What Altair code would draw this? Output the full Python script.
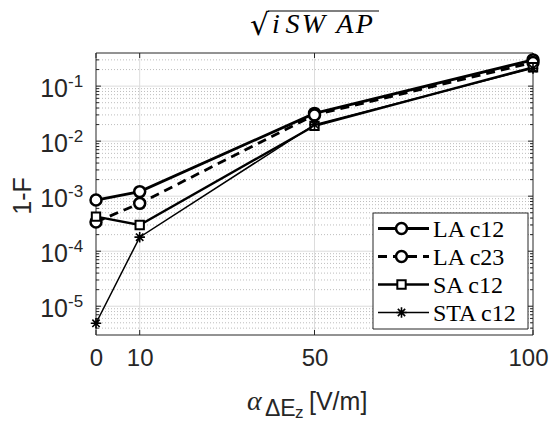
import altair as alt
import pandas as pd

# ---------------- data ----------------
x_vals = [0, 10, 50, 100]
la_c12 = [8.5e-4, 1.21e-3, 0.032, 0.30]
la_c23 = [3.4e-4, 7.4e-4, 0.030, 0.27]
sa_c12 = [4.25e-4, 3.0e-4, 0.019, 0.22]
sta_c12 = [4.9e-6, 1.8e-4, 0.020, 0.21]
series_names = ["LA c12", "LA c23", "SA c12", "STA c12"]

x_ticks = [0, 10, 50, 100]
x_grid = [10, 50]
y_decades = [1e-5, 1e-4, 1e-3, 1e-2, 1e-1]
y_exponents = ["-5", "-4", "-3", "-2", "-1"]
y_minor = [m * 10.0 ** e for e in range(-6, 0) for m in range(2, 10)
           if 3e-6 < m * 10.0 ** e < 0.4]

title_root = ["\u221a"]
title_body = ["i\u2009S\u200aW\u2009\u2009A\u200aP"]
y_title = ["1-F"]
x_title_parts = ["\u03b1", "\u0394E", "z", "[V/m]"]

W, H = 437, 282
YDOM = [3e-6, 0.4]
INK = "#262626"


def X(field="x"):
    return alt.X(f"{field}:Q",
                 scale=alt.Scale(domain=[0, 100], nice=False, zero=False),
                 axis=alt.Axis(values=x_ticks, grid=False, domain=False, ticks=False,
                               labelFontSize=24, labelFont="Liberation Sans",
                               labelColor=INK, labelPadding=11, labelFlush=False,
                               labelOffset={"condition": {"test": "datum.value >= 100", "value": -5},
                                            "value": 0},
                               labelOverlap=False, title=None))


def Y(field="y"):
    return alt.Y(f"{field}:Q", scale=alt.Scale(type="log", domain=YDOM, nice=False),
                 axis=None)


layers = []

# minor dotted grid
df_minor = pd.DataFrame({"v": y_minor})
layers.append(alt.Chart(df_minor).mark_rule(color="#bdbdbd", strokeDash=[1, 2], strokeWidth=1)
              .encode(y=Y("v"), x=alt.value(0), x2=alt.value(W)))
# major grid
df_dec = pd.DataFrame({"v": y_decades, "e": y_exponents, "b": ["10"] * len(y_decades)})
layers.append(alt.Chart(df_dec).mark_rule(color="#dcdcdc", strokeWidth=1)
              .encode(y=Y("v"), x=alt.value(0), x2=alt.value(W)))
df_xg = pd.DataFrame({"v": x_grid})
layers.append(alt.Chart(df_xg).mark_rule(color="#dcdcdc", strokeWidth=1)
              .encode(x=X("v"), y=alt.value(0), y2=alt.value(H)))

# frame
layers.append(alt.Chart(pd.DataFrame({"t": [0]})).mark_rect(fill=None, stroke=INK, strokeWidth=1)
              .encode(x=alt.value(0), x2=alt.value(W), y=alt.value(0), y2=alt.value(H)))

# ticks
df_xt = pd.DataFrame({"v": x_ticks})
layers.append(alt.Chart(df_xt).mark_rule(color=INK).encode(x=X("v"), y=alt.value(H), y2=alt.value(H - 5)))
layers.append(alt.Chart(df_xt).mark_rule(color=INK).encode(x=X("v"), y=alt.value(0), y2=alt.value(5)))
layers.append(alt.Chart(df_dec).mark_rule(color=INK).encode(y=Y("v"), x=alt.value(0), x2=alt.value(5)))
layers.append(alt.Chart(df_dec).mark_rule(color=INK).encode(y=Y("v"), x=alt.value(W), x2=alt.value(W - 5)))
layers.append(alt.Chart(df_minor).mark_rule(color=INK).encode(y=Y("v"), x=alt.value(0), x2=alt.value(3)))
layers.append(alt.Chart(df_minor).mark_rule(color=INK).encode(y=Y("v"), x=alt.value(W), x2=alt.value(W - 3)))

STAR = "M-1,0L1,0M0,-1L0,1M-0.7,-0.7L0.7,0.7M-0.7,0.7L0.7,-0.7"
styles = {
    "LA c12": dict(vals=la_c12, lw=2.8, dash=None, shape="circle", size=120, pw=2.5),
    "LA c23": dict(vals=la_c23, lw=2.8, dash=[9, 6], shape="circle", size=120, pw=2.5),
    "SA c12": dict(vals=sa_c12, lw=2.4, dash=None, shape="square", size=70, pw=2.0),
    "STA c12": dict(vals=sta_c12, lw=1.5, dash=None, shape=STAR, size=110, pw=1.6),
}

for name in series_names:
    s = styles[name]
    df = pd.DataFrame({"x": x_vals, "y": s["vals"]})
    lkw = dict(color="black", strokeWidth=s["lw"])
    if s["dash"]:
        lkw["strokeDash"] = s["dash"]
    layers.append(alt.Chart(df).mark_line(**lkw).encode(x=X(), y=Y()))
    layers.append(alt.Chart(df).mark_point(shape=s["shape"], size=s["size"], stroke="black",
                                           strokeWidth=s["pw"], fill="white", fillOpacity=1,
                                           opacity=1, filled=False)
                  .encode(x=X(), y=Y()))

# legend
LX0, LX1, LY0, LY1 = 277, 432, 160, 276
layers.append(alt.Chart(pd.DataFrame({"t": [0]})).mark_rect(fill="white", stroke=INK, strokeWidth=1)
              .encode(x=alt.value(LX0), x2=alt.value(LX1), y=alt.value(LY0), y2=alt.value(LY1)))
for i, name in enumerate(series_names):
    s = styles[name]
    yy = 175.5 + i * 28
    lkw = dict(color="black", strokeWidth=s["lw"])
    if s["dash"]:
        lkw["strokeDash"] = s["dash"]
    layers.append(alt.Chart(pd.DataFrame({"t": [name]})).mark_rule(**lkw)
                  .encode(x=alt.value(282), x2=alt.value(333), y=alt.value(yy)))
    layers.append(alt.Chart(pd.DataFrame({"t": [name]}))
                  .mark_point(shape=s["shape"], size=s["size"], stroke="black", strokeWidth=s["pw"],
                              fill="white", fillOpacity=1, opacity=1, filled=False)
                  .encode(x=alt.value(305.5), y=alt.value(yy)))
    layers.append(alt.Chart(pd.DataFrame({"t": [name]}))
                  .mark_text(align="left", baseline="middle", font="Liberation Serif", fontSize=24,
                             color="black")
                  .encode(x=alt.value(337), y=alt.value(yy + 1), text="t:N"))

# y tick labels
layers.append(alt.Chart(df_dec).mark_text(align="right", baseline="alphabetic", font="Liberation Sans",
                                          fontSize=25, color=INK, dy=11)
              .encode(y=Y("v"), x=alt.value(-28), text="b:N"))
layers.append(alt.Chart(df_dec).mark_text(align="left", baseline="alphabetic", font="Liberation Sans",
                                          fontSize=17, color=INK, dy=1)
              .encode(y=Y("v"), x=alt.value(-28), text="e:N"))

# y title
layers.append(alt.Chart(pd.DataFrame({"t": y_title}))
              .mark_text(align="center", baseline="middle", font="Liberation Sans", fontSize=25,
                         color=INK, angle=270)
              .encode(x=alt.value(-73), y=alt.value(143), text="t:N"))

# x title
xt = [(x_title_parts[0], 151, 357, "Liberation Serif", "italic", 28),
      (x_title_parts[1], 169, 363, "Liberation Sans", "normal", 23),
      (x_title_parts[2], 199, 365, "Liberation Sans", "normal", 17),
      (x_title_parts[3], 213, 357, "Liberation Sans", "normal", 25)]
for txt, px, py, fnt, sty, fs in xt:
    layers.append(alt.Chart(pd.DataFrame({"t": [txt]}))
                  .mark_text(align="left", baseline="alphabetic", font=fnt, fontStyle=sty,
                             fontSize=fs, color=INK)
                  .encode(x=alt.value(px), y=alt.value(py), text="t:N"))

# title
layers.append(alt.Chart(pd.DataFrame({"t": title_root}))
              .mark_text(align="left", baseline="alphabetic", font="DejaVu Serif", fontSize=30,
                         color="black")
              .encode(x=alt.value(154), y=alt.value(-18), text="t:N"))
layers.append(alt.Chart(pd.DataFrame({"t": title_body}))
              .mark_text(align="left", baseline="alphabetic", font="Liberation Serif", fontSize=28,
                         fontStyle="italic", color="black")
              .encode(x=alt.value(176), y=alt.value(-20), text="t:N"))
layers.append(alt.Chart(pd.DataFrame({"t": title_root}))
              .mark_rule(color="black", strokeWidth=1.2)
              .encode(x=alt.value(172), x2=alt.value(283), y=alt.value(-42)))

chart = alt.layer(*layers).properties(
    width=W, height=H,
    padding={"left": 88, "top": 45, "right": 16, "bottom": 87},
    autosize=alt.AutoSizeParams(type="none"),
).configure_view(stroke=None)

chart.save("out.html", embed_options={"renderer": "svg", "actions": False})
